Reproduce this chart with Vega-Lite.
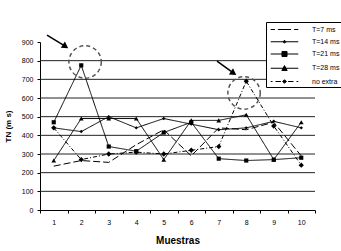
{
  "$schema": "https://vega.github.io/schema/vega-lite/v6.json",
  "width": 275,
  "height": 168,
  "autosize": "none",
  "padding": {"left": 40, "top": 42, "right": 26, "bottom": 41},
  "background": "white",
  "config": {
    "view": {"stroke": null},
    "font": "Liberation Sans",
    "axis": {
      "labelFontSize": 7, "labelColor": "black", "labelOverlap": false, "labelBound": false, "labelFlush": false,
      "tickSize": 3, "tickColor": "black", "domainColor": "black",
      "titleColor": "black", "titleFontWeight": "bold", "grid": false
    },
    "axisX": {"labelPadding": 5, "titleFontSize": 10, "titlePadding": 10},
    "axisY": {"labelPadding": 4, "titleFontSize": 8, "titlePadding": 9},
    "legend": {
      "symbolOffset": 11, "labelOffset": 21, "symbolSize": 144,
      "symbolStrokeColor": "black", "symbolStrokeWidth": 1,
      "labelFontSize": 7, "labelColor": "black", "rowPadding": 2.25, "padding": 1
    }
  },
  "datasets": {
    "grid": [
      {"TN": 100}, {"TN": 200}, {"TN": 300}, {"TN": 400},
      {"TN": 500}, {"TN": 600}, {"TN": 700}, {"TN": 800}
    ],
    "series": [
      {"Muestra": 1, "TN": 235, "Serie": "T=7 ms"},
      {"Muestra": 2, "TN": 265, "Serie": "T=7 ms"},
      {"Muestra": 3, "TN": 255, "Serie": "T=7 ms"},
      {"Muestra": 4, "TN": 350, "Serie": "T=7 ms"},
      {"Muestra": 5, "TN": 430, "Serie": "T=7 ms"},
      {"Muestra": 6, "TN": 290, "Serie": "T=7 ms"},
      {"Muestra": 7, "TN": 440, "Serie": "T=7 ms"},
      {"Muestra": 8, "TN": 430, "Serie": "T=7 ms"},
      {"Muestra": 9, "TN": 470, "Serie": "T=7 ms"},
      {"Muestra": 10, "TN": 290, "Serie": "T=7 ms"},
      {"Muestra": 1, "TN": 440, "Serie": "T=14 ms"},
      {"Muestra": 2, "TN": 420, "Serie": "T=14 ms"},
      {"Muestra": 3, "TN": 500, "Serie": "T=14 ms"},
      {"Muestra": 4, "TN": 440, "Serie": "T=14 ms"},
      {"Muestra": 5, "TN": 490, "Serie": "T=14 ms"},
      {"Muestra": 6, "TN": 460, "Serie": "T=14 ms"},
      {"Muestra": 7, "TN": 430, "Serie": "T=14 ms"},
      {"Muestra": 8, "TN": 440, "Serie": "T=14 ms"},
      {"Muestra": 9, "TN": 475, "Serie": "T=14 ms"},
      {"Muestra": 10, "TN": 440, "Serie": "T=14 ms"},
      {"Muestra": 1, "TN": 470, "Serie": "T=21 ms"},
      {"Muestra": 2, "TN": 775, "Serie": "T=21 ms"},
      {"Muestra": 3, "TN": 340, "Serie": "T=21 ms"},
      {"Muestra": 4, "TN": 315, "Serie": "T=21 ms"},
      {"Muestra": 5, "TN": 415, "Serie": "T=21 ms"},
      {"Muestra": 6, "TN": 470, "Serie": "T=21 ms"},
      {"Muestra": 7, "TN": 275, "Serie": "T=21 ms"},
      {"Muestra": 8, "TN": 265, "Serie": "T=21 ms"},
      {"Muestra": 9, "TN": 270, "Serie": "T=21 ms"},
      {"Muestra": 10, "TN": 280, "Serie": "T=21 ms"},
      {"Muestra": 1, "TN": 265, "Serie": "T=28 ms"},
      {"Muestra": 2, "TN": 490, "Serie": "T=28 ms"},
      {"Muestra": 3, "TN": 490, "Serie": "T=28 ms"},
      {"Muestra": 4, "TN": 490, "Serie": "T=28 ms"},
      {"Muestra": 5, "TN": 270, "Serie": "T=28 ms"},
      {"Muestra": 6, "TN": 480, "Serie": "T=28 ms"},
      {"Muestra": 7, "TN": 480, "Serie": "T=28 ms"},
      {"Muestra": 8, "TN": 510, "Serie": "T=28 ms"},
      {"Muestra": 9, "TN": 270, "Serie": "T=28 ms"},
      {"Muestra": 10, "TN": 470, "Serie": "T=28 ms"},
      {"Muestra": 1, "TN": 440, "Serie": "no extra"},
      {"Muestra": 2, "TN": 270, "Serie": "no extra"},
      {"Muestra": 3, "TN": 300, "Serie": "no extra"},
      {"Muestra": 4, "TN": 310, "Serie": "no extra"},
      {"Muestra": 5, "TN": 300, "Serie": "no extra"},
      {"Muestra": 6, "TN": 320, "Serie": "no extra"},
      {"Muestra": 7, "TN": 340, "Serie": "no extra"},
      {"Muestra": 8, "TN": 690, "Serie": "no extra"},
      {"Muestra": 9, "TN": 450, "Serie": "no extra"},
      {"Muestra": 10, "TN": 240, "Serie": "no extra"}
    ],
    "circles": [
      {"Muestra": 2.14, "TN": 793},
      {"Muestra": 7.92, "TN": 627}
    ],
    "arrows": [
      {"Muestra": 0.755, "TN": 937, "Muestra2": 1.427, "TN2": 876},
      {"Muestra": 6.936, "TN": 798, "Muestra2": 7.54, "TN2": 733}
    ]
  },
  "encoding": {
    "x": {
      "field": "Muestra", "type": "quantitative",
      "scale": {"domain": [0.5, 10.5], "nice": false, "zero": false},
      "axis": {
        "title": "Muestras",
        "values": [0.5, 1.5, 2.5, 3.5, 4.5, 5.5, 6.5, 7.5, 8.5, 9.5, 10.5],
        "labelExpr": "datum.value < 10 ? '' + (datum.value + 0.5) : ''",
        "labelOffset": 13.75
      }
    },
    "y": {
      "field": "TN", "type": "quantitative",
      "scale": {"domain": [0, 900], "nice": false},
      "axis": {
        "title": "TN (m s)",
        "values": [0, 100, 200, 300, 400, 500, 600, 700, 800, 900]
      }
    }
  },
  "resolve": {"scale": {"shape": "independent", "size": "independent"}},
  "layer": [
    {
      "data": {"name": "grid"},
      "mark": {"type": "rule", "color": "#222222", "strokeWidth": 1},
      "encoding": {
        "x": null
      }
    },
    {
      "data": {"name": "series"},
      "mark": {"type": "line", "color": "black", "strokeWidth": 1},
      "encoding": {
        "strokeDash": {
          "field": "Serie", "type": "nominal",
          "scale": {
            "domain": ["T=7 ms", "T=14 ms", "T=21 ms", "T=28 ms", "no extra"],
            "range": [[7, 3], [1, 0], [1, 0], [1, 0], [4, 2, 1, 2]]
          },
          "legend": null
        }
      }
    },
    {
      "data": {"name": "series"},
      "transform": [{"filter": "datum.Serie !== 'T=7 ms'"}],
      "mark": {"type": "point", "filled": true, "color": "black", "opacity": 1},
      "encoding": {
        "shape": {
          "field": "Serie", "type": "nominal",
          "scale": {
            "domain": ["T=14 ms", "T=21 ms", "T=28 ms", "no extra"],
            "range": ["diamond", "square", "triangle-up", "diamond"]
          },
          "legend": null
        },
        "size": {
          "field": "Serie", "type": "nominal",
          "scale": {
            "domain": ["T=14 ms", "T=21 ms", "T=28 ms", "no extra"],
            "range": [12, 28, 28, 18]
          },
          "legend": null
        }
      }
    },
    {
      "data": {"name": "circles"},
      "mark": {"type": "point", "shape": "circle", "size": 1050, "filled": false, "stroke": "#555555", "strokeWidth": 1.5, "strokeDash": [4, 3], "opacity": 1}
    },
    {
      "data": {"name": "arrows"},
      "mark": {"type": "rule", "color": "black", "strokeWidth": 1.5},
      "encoding": {
        "x2": {"field": "Muestra2"},
        "y2": {"field": "TN2"}
      }
    },
    {
      "data": {"name": "arrows"},
      "mark": {"type": "point", "shape": "triangle-right", "angle": 34, "size": 55, "filled": true, "color": "black", "opacity": 1},
      "encoding": {
        "x": {"field": "Muestra2", "type": "quantitative"},
        "y": {"field": "TN2", "type": "quantitative"}
      }
    },
    {
      "data": {"name": "series"},
      "mark": {"type": "point", "filled": false, "stroke": "black", "strokeWidth": 1, "opacity": 0, "size": 144},
      "encoding": {
        "shape": {
          "field": "Serie", "type": "nominal",
          "scale": {
            "domain": ["T=7 ms", "T=14 ms", "T=21 ms", "T=28 ms", "no extra"],
            "range": [
              "M-2.3,0H-1.6M-1.1,0H1.1M1.6,0H2.3",
              "M-2.3,0H2.3M-0.25,0L0,-0.25L0.25,0L0,0.25ZM-0.1,-0.1H0.1M-0.1,0.1H0.1",
              "M-2.3,0H2.3M-0.42,-0.42H0.42V0.42H-0.42ZM-0.42,-0.25H0.42M-0.42,-0.08H0.42M-0.42,0.08H0.42M-0.42,0.25H0.42",
              "M-2.3,0H2.3M-0.45,0.38L0,-0.45L0.45,0.38ZM-0.36,0.21H0.36M-0.27,0.04H0.27M-0.17,-0.13H0.17M-0.08,-0.3H0.08",
              "M-2.3,0H-2M-1.5,0H-0.6M-0.3,0L0,-0.3L0.3,0L0,0.3ZM-0.3,0H0.3M-0.15,-0.15H0.15M-0.15,0.15H0.15M0.6,0H1.5M2,0H2.3"
            ]
          },
          "legend": {
            "title": null,
            "orient": "none",
            "legendX": 226,
            "legendY": -20,
            "fillColor": "white",
            "strokeColor": "black",
            "symbolOpacity": 1,
            "symbolStrokeColor": "black"
          }
        }
      }
    }
  ]
}
